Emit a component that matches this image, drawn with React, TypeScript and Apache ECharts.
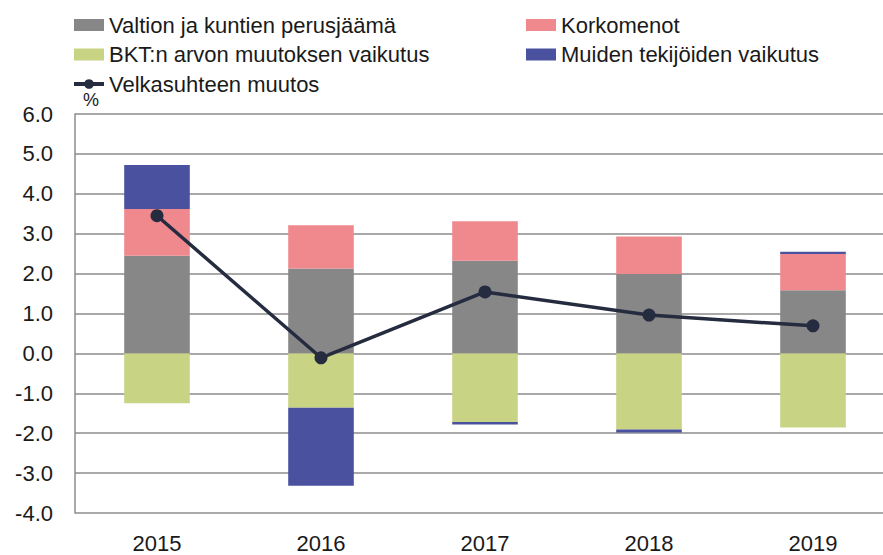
import React, { useEffect, useRef } from "react";
import * as echarts from "echarts";

const years = ["2015", "2016", "2017", "2018", "2019"];
const primaryBalance = [2.45, 2.13, 2.32, 1.99, 1.58];
const interestCosts = [1.17, 1.08, 0.99, 0.94, 0.91];
const gdpEffect = [-1.25, -1.36, -1.72, -1.91, -1.86];
const otherFactors = [1.1, -1.96, -0.06, -0.07, 0.06];
const debtRatioChange = [3.45, -0.11, 1.54, 0.96, 0.69];

const names = {
  gray: "Valtion ja kuntien perusjäämä",
  pink: "Korkomenot",
  green: "BKT:n arvon muutoksen vaikutus",
  blue: "Muiden tekijöiden vaikutus",
  line: "Velkasuhteen muutos",
};

const FONT = "'Liberation Sans', Arial, sans-serif";

export default function App() {
  const ref = useRef<HTMLDivElement>(null);
  useEffect(() => {
    if (!ref.current) return;
    const chart = echarts.init(ref.current, undefined, { renderer: "svg" });
    const legendText = { fontFamily: FONT, fontSize: 22, color: "#1a1a1a", lineHeight: 22 };
    const barBase = { type: "bar" as const, stack: "total", barWidth: "40%" };
    chart.setOption({
      animation: false,
      textStyle: { fontFamily: FONT },
      legend: [
        {
          orient: "vertical",
          left: 67,
          top: 9,
          itemGap: 7.5,
          itemWidth: 30,
          itemHeight: 12,
          textStyle: legendText,
          data: [
            { name: names.gray, icon: "rect" },
            { name: names.green, icon: "rect" },
            { name: names.line, lineStyle: { width: 4 } },
          ],
        },
        {
          orient: "vertical",
          left: 521,
          top: 9,
          itemGap: 7.5,
          itemWidth: 30,
          itemHeight: 12,
          textStyle: legendText,
          data: [
            { name: names.pink, icon: "rect" },
            { name: names.blue, icon: "rect" },
          ],
        },
      ],
      grid: { left: 75, top: 114, right: 0, bottom: 42 },
      xAxis: {
        type: "category",
        data: years,
        axisLine: { show: false },
        axisTick: { show: false },
        axisLabel: { fontFamily: FONT, fontSize: 22, color: "#1a1a1a", margin: 19 },
      },
      yAxis: {
        type: "value",
        min: -4,
        max: 6,
        interval: 1,
        name: "%",
        nameGap: 5,
        nameTextStyle: { fontFamily: FONT, fontSize: 18, color: "#1a1a1a", align: "left", padding: [0, 0, 0, 8] },
        axisLine: { show: true, lineStyle: { color: "#8c8c8c", width: 1.5 } },
        axisTick: { show: false },
        splitLine: { lineStyle: { color: "#8c8c8c", width: 1.5 } },
        axisLabel: {
          fontFamily: FONT,
          fontSize: 22,
          color: "#1a1a1a",
          margin: 22,
          formatter: (v: number) => v.toFixed(1),
        },
      },
      series: [
        { ...barBase, name: names.gray, data: primaryBalance, itemStyle: { color: "#878787" } },
        { ...barBase, name: names.pink, data: interestCosts, itemStyle: { color: "#ef898d" } },
        { ...barBase, name: names.green, data: gdpEffect, itemStyle: { color: "#c8d384" } },
        { ...barBase, name: names.blue, data: otherFactors, itemStyle: { color: "#4a529f" } },
        {
          type: "line",
          name: names.line,
          data: debtRatioChange,
          symbol: "circle",
          symbolSize: 13,
          lineStyle: { color: "#262c3f", width: 3.5 },
          itemStyle: { color: "#262c3f" },
          z: 5,
        },
      ],
    });
    return () => chart.dispose();
  }, []);
  return (
    <div
      ref={ref}
      style={{ position: "fixed", left: 0, top: 0, width: 895, height: 555, background: "#fff" }}
    />
  );
}
